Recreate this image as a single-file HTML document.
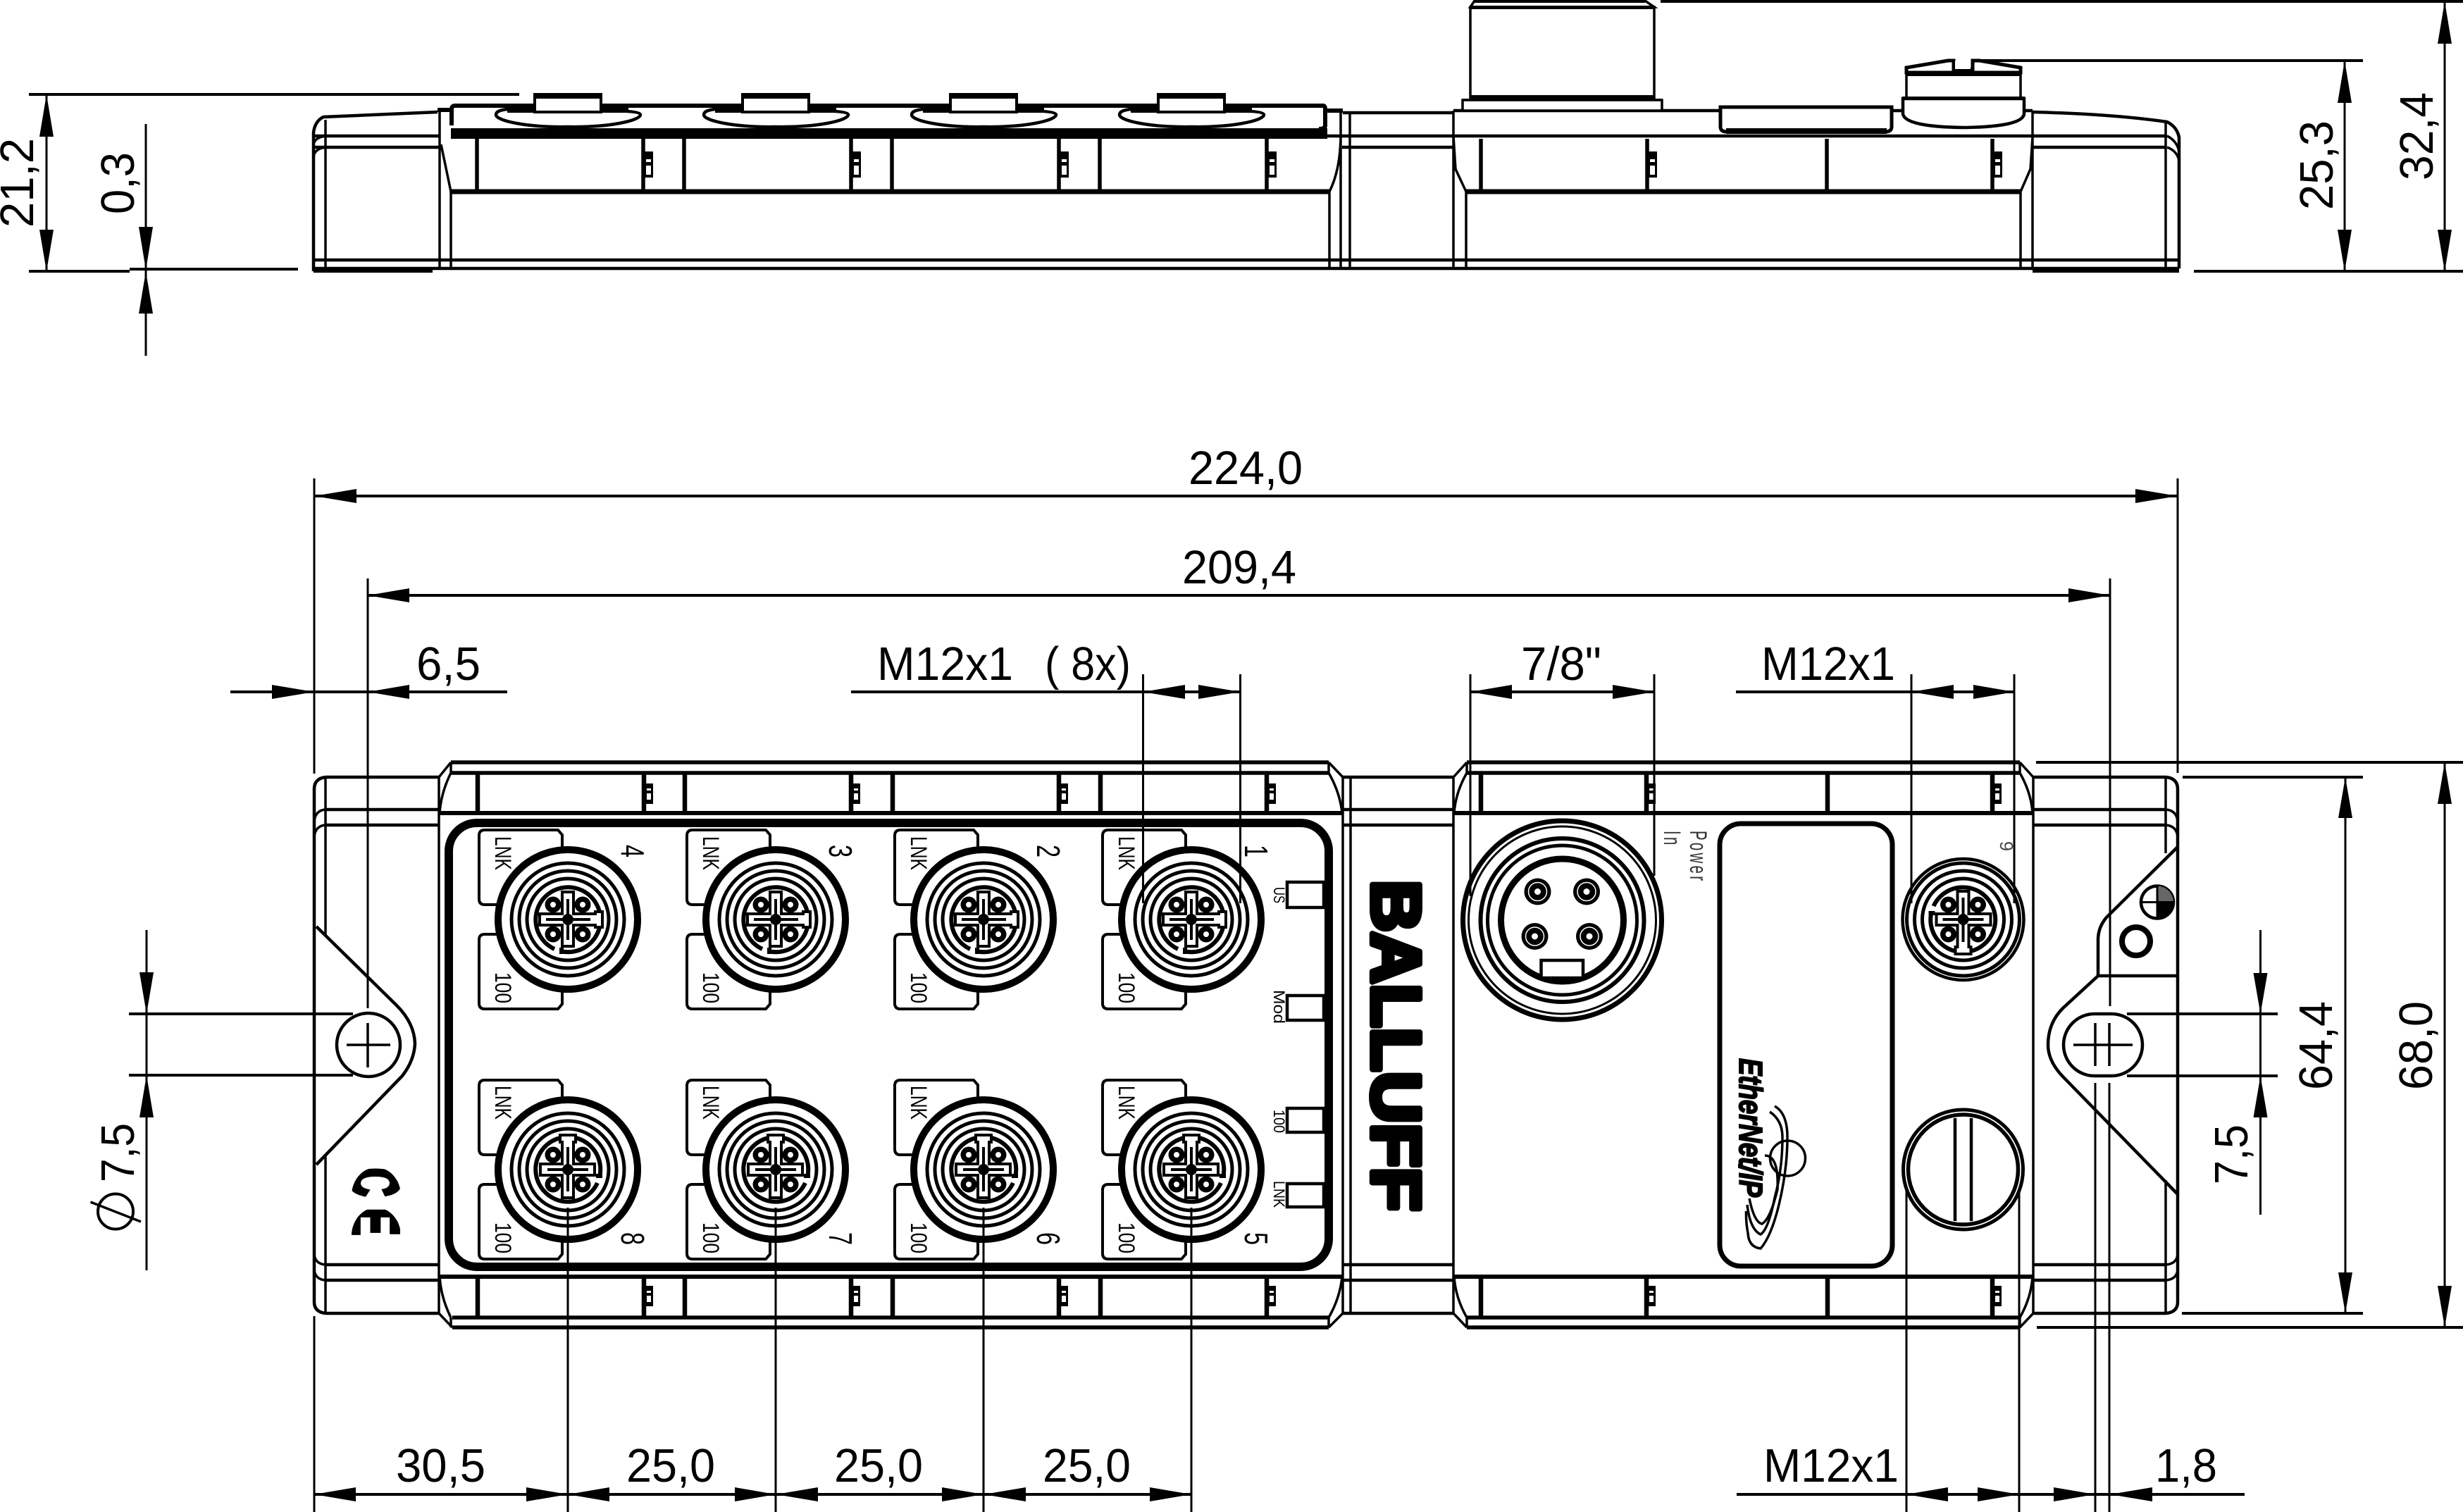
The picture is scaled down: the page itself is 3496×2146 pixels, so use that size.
<!DOCTYPE html>
<html><head><meta charset="utf-8"><title>Drawing</title>
<style>
html,body{margin:0;padding:0;background:#fff}
svg{display:block}
text{font-family:"Liberation Sans",sans-serif;fill:#000}
.d{font-size:67px}
.s{font-size:32px}
.n{font-size:46px}
.l{font-size:22px}
</style></head><body>
<svg xmlns="http://www.w3.org/2000/svg" width="3496" height="2146" viewBox="0 0 3496 2146">
<defs>
<clipPath id="ceC"><ellipse cx="534" cy="1697" rx="35" ry="40"/></clipPath>
<clipPath id="ceE"><ellipse cx="534" cy="1754" rx="35" ry="40"/></clipPath>
<g id="core">
<path d="M-19,42A46,46 0 1 1 -8,45.5M-9,40V49" fill="none" stroke="#000" stroke-width="6"/>
<path d="M-8,-39H8V-8H39V-11H49V11H39V8H8V38H-8V8H-40V-8H-8Z" fill="#fff" stroke="#000" stroke-width="4"/>
<g fill="#000"><circle cx="-21" cy="-21" r="11.5"/><circle cx="21" cy="-21" r="11.5"/><circle cx="-21" cy="21" r="11.5"/><circle cx="21" cy="21" r="11.5"/></g>
<g fill="#fff"><circle cx="-21" cy="-21" r="4"/><circle cx="21" cy="-21" r="4"/><circle cx="-21" cy="21" r="4"/><circle cx="21" cy="21" r="4"/></g>
<path d="M0,-29V29M-31,0H32" stroke="#000" stroke-width="4"/>
<circle r="8" fill="#000"/>
</g>
<g id="rings" fill="none" stroke="#000" stroke-width="5">
<circle r="80"/><circle r="69"/><circle r="58"/>
</g>
<g id="m0"><circle r="99" fill="#fff" stroke="#000" stroke-width="10"/><use href="#rings"/><use href="#core"/></g>
<g id="m1"><circle r="99" fill="#fff" stroke="#000" stroke-width="10"/><use href="#rings"/><use href="#core" transform="rotate(-90)"/></g>
<g id="tab" fill="#fff" stroke="#000" stroke-width="4">
<path d="M-8,-21V-120L-14,-127H-118Q-126,-127 -126,-119V-29Q-126,-21 -118,-21H-8Z"/>
<path d="M-8,21V120L-14,127H-118Q-126,127 -126,119V29Q-126,21 -118,21H-8Z"/>
</g>
<g id="latch"><rect x="0" y="0" width="13" height="29" fill="#000"/><rect x="4" y="7" width="6" height="3" fill="#fff"/><rect x="4" y="14" width="6" height="9" fill="#fff"/></g>
<g id="latchT"><rect x="0" y="0" width="14" height="37" fill="#000"/><rect x="4" y="11" width="7" height="4" fill="#fff"/><rect x="4" y="20" width="7" height="13" fill="#fff"/></g>
<g id="nub">
<path d="M-102,163C-102,171 -60,181 0,180C60,181 102,171 103,163C103,157 60,155 -86,155C-95,156 -102,158 -102,163Z" fill="#fff" stroke="#000" stroke-width="4.5"/>
<path d="M-86,153H86V160H-86Z" fill="#000"/>
<rect x="-47" y="134" width="94" height="25" fill="#fff" stroke="#000" stroke-width="4"/>
<rect x="-49" y="132" width="98" height="8" fill="#000"/>
</g>
</defs>

<!-- TOP VIEW -->
<g fill="none" stroke="#000" stroke-width="3.5">
<path d="M445,385V188Q447,172 459,166L621,159" stroke-width="4.5"/>
<path d="M445,205Q447,195 462,193M445,222Q447,211 462,209M462,170V381M624,157V381M626,205L640,272V381"/>
<path d="M1903,157V381M1916,160V381M1903,190Q1903,240 1887,272V381M2063,157V381M2063,193L2066,240L2081,272V381M2885,157V381M2885,195L2882,240L2868,272V381M3074,173V381"/>
<path d="M2885,159Q3000,162 3076,173Q3090,180 3093,195V381" stroke-width="4.5"/>
<path d="M3076,193Q3090,200 3093,215M3076,209Q3090,214 3093,228"/>
<g stroke-width="4.5">
<path d="M447,193H625M447,209H624M445,369H3093M445,381H3093M1884,193H3076M1905,209H2063M2885,209H3075M1906,160H2063M2063,157H2440M2687,157H2700M2874,157H2885"/>
</g>
<path d="M621,156H638M1884,157H1906" stroke-width="6"/>
<path d="M640,272H1887M2081,272H2868" stroke-width="7"/>
<path d="M641,178V155Q641,150 646,150H1878Q1881,150 1881,155V178Q1881,183 1872,183" stroke-width="6" fill="#fff"/>
<path d="M677,197V272M913,197V272M971,197V272M1208,197V272M1266,197V272M1503,197V272M1561,197V272M1798,197V272M2102,197V272M2338,197V272M2593,197V272M2828,197V272" stroke-width="5.5"/>
</g>
<rect x="640" y="182" width="1244" height="15" fill="#000"/>
<use href="#latchT" x="913" y="215"/><use href="#latchT" x="1208" y="215"/><use href="#latchT" x="1503" y="215"/><use href="#latchT" x="1798" y="215"/><use href="#latchT" x="2338" y="215"/><use href="#latchT" x="2828" y="215"/>
<use href="#nub" x="806"/><use href="#nub" x="1101"/><use href="#nub" x="1396"/><use href="#nub" x="1691"/>
<rect x="445" y="381" width="169" height="6" fill="#000"/>
<rect x="2885" y="381" width="208" height="6" fill="#000"/>
<!-- 7/8 conn side -->
<g fill="#fff" stroke="#000" stroke-width="3.5">
<rect x="2076" y="142" width="283" height="15"/>
<rect x="2087" y="10" width="261" height="130"/>
<path d="M2087,10L2093,1H2335L2348,10Z"/>
</g>
<rect x="2087" y="8" width="261" height="5" fill="#000"/><rect x="2092" y="0" width="243" height="4" fill="#000"/><rect x="2087" y="135" width="261" height="5" fill="#000"/><rect x="2076" y="140" width="283" height="3" fill="#000"/>
<!-- label plate side -->
<path d="M2442,152H2685V180Q2685,187 2676,187H2451Q2442,187 2442,180Z" fill="#fff" stroke="#000" stroke-width="5"/>
<rect x="2450" y="182" width="228" height="8" fill="#000"/>
<!-- screw side -->
<g fill="#fff" stroke="#000" stroke-width="3.5">
<path d="M2701,140V162Q2705,180 2787,181Q2870,180 2873,162V140Z" stroke-width="4.5"/>
<rect x="2706" y="105" width="162" height="34"/>
<path d="M2706,103V96L2765,86H2773V98H2800V86H2810L2868,96V103Z" stroke-width="5"/>
<path d="M2786,86V98" stroke="#fff" stroke-width="22"/>
</g>
<rect x="2706" y="103" width="162" height="5" fill="#000"/><rect x="2700" y="137" width="174" height="5" fill="#000"/>
<!-- top dims -->
<g fill="none" stroke="#000">
<path d="M41,134H737M41,385H184M184,382H423M2357,2H3496M3114,385H3496M2811,86H3354" stroke-width="4"/>
<path d="M66,134V385M207,176V505M3328,86V385M3470,2V385" stroke-width="3"/>
</g>
<g fill="#000">
<path d="M66,134L76,194H56ZM66,385L56,326H76ZM207,383L197,322H217ZM207,385L217,445H197ZM3328,86L3338,146H3318ZM3328,385L3318,326H3338ZM3470,2L3480,62H3460ZM3470,385L3460,326H3480Z"/>
</g>
<text class="d" transform="translate(47,323) rotate(-90)" textLength="127" lengthAdjust="spacingAndGlyphs">21,2</text>
<text class="d" transform="translate(190,304) rotate(-90)" textLength="88" lengthAdjust="spacingAndGlyphs">0,3</text>
<text class="d" transform="translate(3311,298) rotate(-90)" textLength="127" lengthAdjust="spacingAndGlyphs">25,3</text>
<text class="d" transform="translate(3453,256) rotate(-90)" textLength="125" lengthAdjust="spacingAndGlyphs">32,4</text>

<!-- PLAN VIEW body -->
<g fill="none" stroke="#000" stroke-width="3.5">
<path d="M462,1103Q446,1105 446,1120V1848Q446,1862 462,1864" stroke-width="4.5"/>
<path d="M446,1165Q448,1150 462,1149M446,1187Q448,1172 462,1171M446,1781Q448,1794 462,1795M446,1803Q448,1816 462,1817"/>
<path d="M462,1103V1328M462,1640V1864M1906,1103V1864M1917,1103V1864M2063,1103V1864M623,1103V1864M2886,1103V1864M3074,1103V1211M3074,1675V1864"/>
<path d="M3075,1103Q3091,1105 3091,1120V1848Q3091,1862 3075,1864" stroke-width="4.5"/>
<path d="M3091,1165Q3089,1150 3074,1149M3091,1187Q3089,1172 3074,1171M3091,1781Q3089,1794 3074,1795M3091,1803Q3089,1816 3074,1817"/>
<path d="M640,1082L623,1103M640,1082V1097M640,1097Q626,1125 624,1154M623,1864L642,1884M640,1870Q626,1842 624,1812M640,1870V1884"/>
<path d="M1886,1082L1906,1103M1886,1082V1097M1886,1097Q1902,1125 1905,1154M1906,1864L1886,1884M1886,1870Q1902,1842 1905,1812M1886,1870V1884"/>
<path d="M2082,1082L2063,1103M2082,1082V1097M2082,1097Q2066,1125 2064,1154M2063,1864L2082,1884M2082,1870Q2066,1842 2064,1812M2082,1870V1884"/>
<path d="M2867,1082L2886,1103M2867,1082V1097M2867,1097Q2883,1125 2885,1154M2886,1864L2867,1884M2867,1870Q2883,1842 2885,1812M2867,1870V1884"/>
<g stroke-width="4.5">
<path d="M462,1103H623M462,1149H623M462,1171H623M462,1795H623M462,1817H623M462,1864H623"/>
<path d="M1906,1103H2063M1906,1149H2063M1906,1171H2063M1906,1795H2063M1906,1817H2063M1906,1864H2063"/>
<path d="M2886,1103H3075M2886,1149H3074M2886,1171H3074M2886,1795H3074M2886,1817H3074M2886,1864H3075"/>
</g>
<path d="M623,1154H1906M2063,1154H2886M623,1812H1906M2063,1812H2886" stroke-width="6"/>
<g stroke-width="5.5">
<path d="M640,1082H1886M640,1097H1886M2082,1082H2867M2082,1097H2867M642,1870H1886M642,1884H1886M2082,1870H2867M2082,1884H2867"/>
</g>
<path d="M678,1097V1154M914,1097V1154M972,1097V1154M1208,1097V1154M1267,1097V1154M1503,1097V1154M1562,1097V1154M1798,1097V1154M2102,1097V1154M2337,1097V1154M2594,1097V1154M2828,1097V1154M678,1812V1870M914,1812V1870M972,1812V1870M1208,1812V1870M1267,1812V1870M1503,1812V1870M1562,1812V1870M1798,1812V1870M2102,1812V1870M2337,1812V1870M2594,1812V1870M2828,1812V1870" stroke-width="6.5"/>
<!-- notch left -->
<path d="M449,1315L563,1427Q588,1452 589,1481Q588,1505 571,1527L449,1653" stroke-width="4.5"/>
<circle cx="523" cy="1483" r="45" stroke-width="4.5"/>
<path d="M492,1483H554M522,1452V1515"/>
<!-- notch right -->
<path d="M3091,1202L2990,1302Q2978,1316 2978,1334V1385L2928,1431Q2907,1452 2907,1483Q2907,1506 2928,1528L3091,1695" stroke-width="4.5"/>
<path d="M2978,1385H3091" stroke-width="4.5"/>
<rect x="2929" y="1439" width="112" height="88" rx="44" ry="44" stroke-width="4.5"/>
<path d="M2943,1483H3027M2974,1452V1513M2994,1452V1513"/>
<circle cx="3062" cy="1280.5" r="23" stroke-width="4.5"/>
<circle cx="3032" cy="1336" r="20" stroke-width="8"/>
</g>
<path d="M3062,1280.5H3085A23,23 0 0 1 3062,1303.5Z" fill="#000"/>
<path d="M3062,1280.5H3085A23,23 0 0 0 3062,1257.5Z" fill="#666"/>
<path d="M3039,1280.5H3085M3062,1257.5V1303.5" stroke="#000" stroke-width="3"/>
<use href="#latch" x="914" y="1112"/><use href="#latch" x="1208" y="1112"/><use href="#latch" x="1503" y="1112"/><use href="#latch" x="1798" y="1112"/><use href="#latch" x="2337" y="1112"/><use href="#latch" x="2828" y="1112"/>
<use href="#latch" x="914" y="1825"/><use href="#latch" x="1208" y="1825"/><use href="#latch" x="1503" y="1825"/><use href="#latch" x="1798" y="1825"/><use href="#latch" x="2337" y="1825"/><use href="#latch" x="2828" y="1825"/>

<!-- Panel -->
<rect x="637" y="1168" width="1249" height="630" rx="40" ry="40" fill="none" stroke="#000" stroke-width="12"/>
<g fill="#fff" stroke="#000" stroke-width="4.5">
<rect x="1827" y="1252" width="52" height="36"/><rect x="1827" y="1413" width="52" height="35"/><rect x="1827" y="1573" width="52" height="34"/><rect x="1827" y="1680" width="52" height="33"/>
</g>
<text class="l" transform="translate(1808,1259) rotate(90)" textLength="23" lengthAdjust="spacingAndGlyphs">US</text>
<text class="l" transform="translate(1808,1405) rotate(90)" textLength="48" lengthAdjust="spacingAndGlyphs">Mod</text>
<text class="l" transform="translate(1808,1575) rotate(90)" textLength="33" lengthAdjust="spacingAndGlyphs">100</text>
<text class="l" transform="translate(1808,1676) rotate(90)" textLength="38" lengthAdjust="spacingAndGlyphs">LNK</text>

<!-- tabs -->
<use href="#tab" x="806" y="1305"/><use href="#tab" x="1101" y="1305"/><use href="#tab" x="1396" y="1305"/><use href="#tab" x="1691" y="1305"/>
<use href="#tab" x="806" y="1660"/><use href="#tab" x="1101" y="1660"/><use href="#tab" x="1396" y="1660"/><use href="#tab" x="1691" y="1660"/>
<!-- tab labels -->
<g class="s">
<text class="s" transform="translate(703,1187) rotate(90)" textLength="48" lengthAdjust="spacingAndGlyphs">LNK</text>
<text class="s" transform="translate(998,1187) rotate(90)" textLength="48" lengthAdjust="spacingAndGlyphs">LNK</text>
<text class="s" transform="translate(1293,1187) rotate(90)" textLength="48" lengthAdjust="spacingAndGlyphs">LNK</text>
<text class="s" transform="translate(1588,1187) rotate(90)" textLength="48" lengthAdjust="spacingAndGlyphs">LNK</text>
<text class="s" transform="translate(703,1380) rotate(90)" textLength="44" lengthAdjust="spacingAndGlyphs">100</text>
<text class="s" transform="translate(998,1380) rotate(90)" textLength="44" lengthAdjust="spacingAndGlyphs">100</text>
<text class="s" transform="translate(1293,1380) rotate(90)" textLength="44" lengthAdjust="spacingAndGlyphs">100</text>
<text class="s" transform="translate(1588,1380) rotate(90)" textLength="44" lengthAdjust="spacingAndGlyphs">100</text>
<text class="s" transform="translate(703,1541) rotate(90)" textLength="48" lengthAdjust="spacingAndGlyphs">LNK</text>
<text class="s" transform="translate(998,1541) rotate(90)" textLength="48" lengthAdjust="spacingAndGlyphs">LNK</text>
<text class="s" transform="translate(1293,1541) rotate(90)" textLength="48" lengthAdjust="spacingAndGlyphs">LNK</text>
<text class="s" transform="translate(1588,1541) rotate(90)" textLength="48" lengthAdjust="spacingAndGlyphs">LNK</text>
<text class="s" transform="translate(703,1735) rotate(90)" textLength="44" lengthAdjust="spacingAndGlyphs">100</text>
<text class="s" transform="translate(998,1735) rotate(90)" textLength="44" lengthAdjust="spacingAndGlyphs">100</text>
<text class="s" transform="translate(1293,1735) rotate(90)" textLength="44" lengthAdjust="spacingAndGlyphs">100</text>
<text class="s" transform="translate(1588,1735) rotate(90)" textLength="44" lengthAdjust="spacingAndGlyphs">100</text>
</g>
<!-- numbers -->
<text class="n" transform="translate(882,1199) rotate(90)" textLength="18" lengthAdjust="spacingAndGlyphs">4</text>
<text class="n" transform="translate(1177,1199) rotate(90)" textLength="18" lengthAdjust="spacingAndGlyphs">3</text>
<text class="n" transform="translate(1472,1199) rotate(90)" textLength="18" lengthAdjust="spacingAndGlyphs">2</text>
<text class="n" transform="translate(1767,1199) rotate(90)" textLength="18" lengthAdjust="spacingAndGlyphs">1</text>
<text class="n" transform="translate(882,1749) rotate(90)" textLength="18" lengthAdjust="spacingAndGlyphs">8</text>
<text class="n" transform="translate(1177,1749) rotate(90)" textLength="18" lengthAdjust="spacingAndGlyphs">7</text>
<text class="n" transform="translate(1472,1749) rotate(90)" textLength="18" lengthAdjust="spacingAndGlyphs">6</text>
<text class="n" transform="translate(1767,1749) rotate(90)" textLength="18" lengthAdjust="spacingAndGlyphs">5</text>
<text transform="translate(2839,1194) rotate(90)" font-size="26" textLength="14" lengthAdjust="spacingAndGlyphs" style="fill:#444">9</text>

<!-- connectors -->
<use href="#m0" x="806" y="1305"/><use href="#m0" x="1101" y="1305"/><use href="#m0" x="1396" y="1305"/><use href="#m0" x="1691" y="1305"/>
<use href="#m1" x="806" y="1660"/><use href="#m1" x="1101" y="1660"/><use href="#m1" x="1396" y="1660"/><use href="#m1" x="1691" y="1660"/>

<!-- BALLUFF -->
<text transform="translate(1948,1249) rotate(90)" font-size="97" font-weight="bold" textLength="470" lengthAdjust="spacingAndGlyphs" stroke="#000" stroke-width="8" stroke-linejoin="round">BALLUFF</text>

<!-- 7/8 connector -->
<g fill="none" stroke="#000">
<circle cx="2217.5" cy="1306" r="141" fill="#fff" stroke-width="7"/>
<circle cx="2217.5" cy="1306" r="133" stroke-width="3"/>
<circle cx="2217.5" cy="1306" r="116" stroke-width="6"/>
<circle cx="2217.5" cy="1306" r="106" stroke-width="5"/>
<circle cx="2217.5" cy="1306" r="87" stroke-width="9"/>
</g>
<rect x="2187.5" y="1363" width="59.5" height="25" fill="#fff" stroke="#000" stroke-width="4.5"/>
<g fill="#000"><circle cx="2182.5" cy="1265.5" r="19"/><circle cx="2252" cy="1265.5" r="19"/><circle cx="2178.5" cy="1329" r="19"/><circle cx="2256" cy="1329" r="19"/></g>
<g fill="none" stroke="#fff" stroke-width="1.5"><circle cx="2182.5" cy="1265.5" r="13"/><circle cx="2252" cy="1265.5" r="13"/><circle cx="2178.5" cy="1329" r="13"/><circle cx="2256" cy="1329" r="13"/></g>
<g fill="#fff"><circle cx="2182.5" cy="1265.5" r="4.5"/><circle cx="2252" cy="1265.5" r="4.5"/><circle cx="2178.5" cy="1329" r="4.5"/><circle cx="2256" cy="1329" r="4.5"/></g>
<text transform="translate(2399,1179) rotate(90) scale(.6,1)" font-size="34" letter-spacing="5.5" style="fill:#333">Power</text>
<text transform="translate(2362,1179) rotate(90) scale(.6,1)" font-size="34" letter-spacing="5.5" style="fill:#333">In</text>

<!-- Label plate -->
<rect x="2441" y="1169" width="245" height="628" rx="30" ry="30" fill="none" stroke="#000" stroke-width="7"/>
<text transform="translate(2469,1502) rotate(90)" font-size="46" font-weight="bold" font-style="italic" textLength="197" lengthAdjust="spacingAndGlyphs" stroke="#000" stroke-width="2">EtherNet/IP</text>
<g fill="none" stroke="#000" stroke-width="3.5">
<circle cx="2537.5" cy="1644" r="25"/>
<path d="M2519,1570Q2537,1580 2537,1614Q2537,1660 2525,1710Q2514,1755 2499,1772Q2482,1770 2481,1750Q2478,1735 2478.5,1719"/>
<path d="M2512,1578Q2530,1590 2530,1614Q2530,1660 2519,1700Q2510,1745 2499,1752Q2484,1745 2480,1710"/>
<path d="M2505,1640Q2525,1640 2523,1688Q2513,1730 2501,1737Q2490,1735 2483,1701"/>
</g>

<!-- M12 connector 9 -->
<circle cx="2786.5" cy="1305" r="86" fill="#fff" stroke="#000" stroke-width="4.5"/>
<use href="#rings" x="2786.5" y="1305"/>
<g transform="translate(2786.5,1305) rotate(90)"><use href="#core"/></g>
<!-- plug -->
<g fill="none" stroke="#000">
<circle cx="2786.5" cy="1660" r="85" fill="#fff" stroke-width="5"/>
<circle cx="2786.5" cy="1660" r="78" stroke-width="5.5"/>
<path d="M2775,1587V1733M2798,1587V1733" stroke-width="4.5"/>
</g>
<!-- CE -->
<g clip-path="url(#ceC)"><text transform="translate(499,1658) rotate(90)" font-size="97" font-weight="bold" textLength="40" lengthAdjust="spacingAndGlyphs" stroke="#000" stroke-width="6">C</text></g>
<g clip-path="url(#ceE)"><text transform="translate(499,1714) rotate(90)" font-size="97" font-weight="bold" textLength="40" lengthAdjust="spacingAndGlyphs" stroke="#000" stroke-width="4">E</text></g>

<!-- plan dims -->
<g fill="none" stroke="#000" stroke-width="3">
<path d="M446,679V1098M3091,679V1097M522,821V1431M2995,821V1428M2994,1537V2146M2974,1537V2146"/>
<path d="M446,1868V2146M806,1714V2146M1101,1714V2146M1396,1714V2146M1691,1714V2146M2706,1690V2146M2866,1690V2146"/>
<path d="M1622.5,957V1282M1760.5,957V1282M2087,957V1272M2348,957V1243M2713,957V1282M2859,957V1282"/>
<path d="M208,1320V1803M3208.5,1320V1724M3329,1103V1864M3470,1082V1884" />
<g stroke-width="4">
<path d="M446,704H3091M522,845H2995M327,982H720M1208,982H1760M2087,982H2348M2464,982H2859M446,2121H1691M2465,2121H3186"/>
<path d="M183,1439H501M183,1526H501M3019,1439H3233M3019,1527H3233M2890,1082H3496M2891,1884H3496M3098,1103H3354M3097,1864H3354"/>
</g>
</g>
<g fill="#000">
<!-- horizontal arrows -->
<path d="M446,704L506,694V714ZM3091,704L3031,694V714ZM522,845L581,835V855ZM2995,845L2936,835V855Z"/>
<path d="M446,982L386,972V992ZM522,982L581,972V992ZM1622.5,982L1682,972V992ZM1760.5,982L1701,972V992ZM2087,982L2146,972V992ZM2348,982L2289,972V992ZM2713,982L2773,972V992ZM2859,982L2801,972V992Z"/>
<path d="M446,2121L505,2111V2131ZM806,2121L747,2111V2131ZM806,2121L865,2111V2131ZM1101,2121L1043,2111V2131ZM1101,2121L1161,2111V2131ZM1396,2121L1337,2111V2131ZM1396,2121L1456,2111V2131ZM1691,2121L1632,2111V2131Z"/>
<path d="M2706,2121L2765,2111V2131ZM2866,2121L2807,2111V2131ZM2973.5,2121L2915,2111V2131ZM2995,2121L3055,2111V2131Z"/>
<!-- vertical arrows -->
<path d="M208,1439L198,1380H218ZM208,1526L198,1586H218ZM3208.5,1439L3198.5,1381H3218.5ZM3208.5,1527L3198.5,1586H3218.5Z"/>
<path d="M3329,1103L3319,1161H3339ZM3329,1864L3319,1806H3339ZM3470,1082L3460,1141H3480ZM3470,1884L3460,1825H3480Z"/>
</g>
<!-- dim texts -->
<text class="d" x="1687" y="687" textLength="162" lengthAdjust="spacingAndGlyphs">224,0</text>
<text class="d" x="1678" y="828" textLength="162" lengthAdjust="spacingAndGlyphs">209,4</text>
<text class="d" x="591" y="965" textLength="91" lengthAdjust="spacingAndGlyphs">6,5</text>
<text class="d" x="1245" y="965" textLength="193" lengthAdjust="spacingAndGlyphs">M12x1</text>
<text class="d" x="1483" y="965" textLength="122" lengthAdjust="spacingAndGlyphs">( 8x)</text>
<text class="d" x="2159" y="965" textLength="114" lengthAdjust="spacingAndGlyphs">7/8"</text>
<text class="d" x="2500" y="965" textLength="190" lengthAdjust="spacingAndGlyphs">M12x1</text>
<text class="d" x="562" y="2103" textLength="127" lengthAdjust="spacingAndGlyphs">30,5</text>
<text class="d" x="889" y="2103" textLength="126" lengthAdjust="spacingAndGlyphs">25,0</text>
<text class="d" x="1184" y="2103" textLength="126" lengthAdjust="spacingAndGlyphs">25,0</text>
<text class="d" x="1480" y="2103" textLength="125" lengthAdjust="spacingAndGlyphs">25,0</text>
<text class="d" x="2503" y="2103" textLength="192" lengthAdjust="spacingAndGlyphs">M12x1</text>
<text class="d" x="3059" y="2103" textLength="88" lengthAdjust="spacingAndGlyphs">1,8</text>
<text class="d" transform="translate(3310,1547) rotate(-90)" textLength="126" lengthAdjust="spacingAndGlyphs">64,4</text>
<text class="d" transform="translate(3452,1547) rotate(-90)" textLength="126" lengthAdjust="spacingAndGlyphs">68,0</text>
<text class="d" transform="translate(3190,1681) rotate(-90)" textLength="85" lengthAdjust="spacingAndGlyphs">7,5</text>
<text class="d" transform="translate(190,1678) rotate(-90)" textLength="84" lengthAdjust="spacingAndGlyphs">7,5</text>
<circle cx="164" cy="1719.5" r="25" fill="none" stroke="#000" stroke-width="4"/>
<path d="M128.5,1706L200,1734" stroke="#000" stroke-width="3.5"/>
</svg>
</body></html>
